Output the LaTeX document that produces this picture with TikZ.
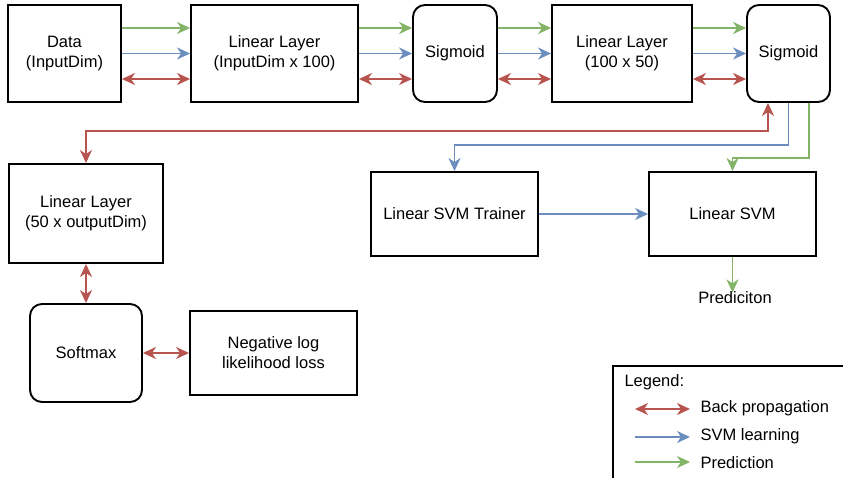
\documentclass[tikz,border=0pt]{standalone}
\usepackage{fontspec}
\setmainfont{Liberation Sans}
\usetikzlibrary{positioning, arrows.meta}

\definecolor{backred}{HTML}{B85450}
\definecolor{svmblue}{HTML}{6C8EBF}
\definecolor{predgreen}{HTML}{82B366}

\tikzset{
    block/.style={draw, line width=1.9pt, align=center, inner sep=2pt},
    roundblock/.style={block, rounded corners=12pt},
    backflow/.style={line width=1.7pt, draw=backred, {Stealth[length=13pt, width=12pt, inset=4pt]}-{Stealth[length=13pt, width=12pt, inset=4pt]}},
    svmflow/.style={line width=1.7pt, draw=svmblue, -{Stealth[length=13pt, width=12pt, inset=4pt]}},
    predflow/.style={line width=1.7pt, draw=predgreen, -{Stealth[length=13pt, width=12pt, inset=4pt]}},
}

\begin{document}
\begin{tikzpicture}[x=1pt, y=-1pt, font=\fontsize{16.5}{20}\selectfont]

    \useasboundingbox (0, 0) rectangle (843, 477);

    % ===== Top row: network layers =====
    \node[block, minimum width=113pt, minimum height=97pt] (data) at (64.5, 53.5) {Data\\(InputDim)};
    \node[block, minimum width=167pt, minimum height=97pt] (lin1) at (274.5, 53.5) {Linear Layer\\(InputDim x 100)};
    \node[roundblock, minimum width=84pt, minimum height=97pt] (sig1) at (455, 53.5) {Sigmoid};
    \node[block, minimum width=140pt, minimum height=97pt] (lin2) at (622, 53.5) {Linear Layer\\(100 x 50)};
    \node[roundblock, minimum width=83pt, minimum height=97pt] (sig2) at (788.5, 53.5) {Sigmoid};

    % prediction / svm learning / back propagation between neighbours
    \foreach \a/\b in {data/lin1, lin1/sig1, sig1/lin2, lin2/sig2} {
        \draw[predflow] ([yshift=25.5pt]\a.east) -- ([yshift=25.5pt]\b.west);
        \draw[svmflow] (\a.east) -- (\b.west);
        \draw[backflow] ([yshift=-25.5pt]\a.east) -- ([yshift=-25.5pt]\b.west);
    }

    % ===== Output head =====
    \node[block, minimum width=154pt, minimum height=99pt] (lin3) at (86, 213.5) {Linear Layer\\(50 x outputDim)};
    \node[roundblock, minimum width=112pt, minimum height=98pt] (soft) at (86, 353) {Softmax};
    \node[block, minimum width=167pt, minimum height=84pt] (loss) at (273.5, 353) {Negative log\\likelihood loss};

    \draw[backflow] ([xshift=-20.5pt]sig2.south) -- ++(0, 28) -| (lin3.north);
    \draw[backflow] (lin3.south) -- (soft.north);
    \draw[backflow] (soft.east) -- (loss.west);

    % ===== SVM branch =====
    \node[block, minimum width=167pt, minimum height=84pt] (trainer) at (454.5, 214) {Linear SVM Trainer};
    \node[block, minimum width=167pt, minimum height=84pt] (svm) at (732.5, 214) {Linear SVM};
    \node (result) at (735, 298) {Prediciton};

    \draw[svmflow] (sig2.south) -- ++(0, 42) -| (trainer.north);
    \draw[svmflow] (trainer.east) -- (svm.west);
    \draw[predflow] ([xshift=20.5pt]sig2.south) -- ++(0, 55) -| (svm.north);
    \draw[predflow] (svm.south) -- ([yshift=-4pt]svm.south |- result.north);

    % ===== Legend =====
    \draw[line width=1.9pt] (613, 366) rectangle (870, 500);
    \node[anchor=west] (legtitle) at (621, 382) {Legend:};
    \coordinate (lbstart) at (635, 409);
    \coordinate (lbend) at (690, 409);
    \coordinate (lsstart) at (635, 437);
    \coordinate (lsend) at (690, 437);
    \coordinate (lpstart) at (635, 462);
    \coordinate (lpend) at (690, 462);
    \draw[backflow] (lbstart) -- (lbend);
    \draw[svmflow] (lsstart) -- (lsend);
    \draw[predflow] (lpstart) -- (lpend);
    \node[anchor=west] (legback) at (697, 408) {Back propagation};
    \node[anchor=west] (legsvm) at (697, 436) {SVM learning};
    \node[anchor=west] (legpred) at (697, 463) {Prediction};

\end{tikzpicture}
\end{document}
